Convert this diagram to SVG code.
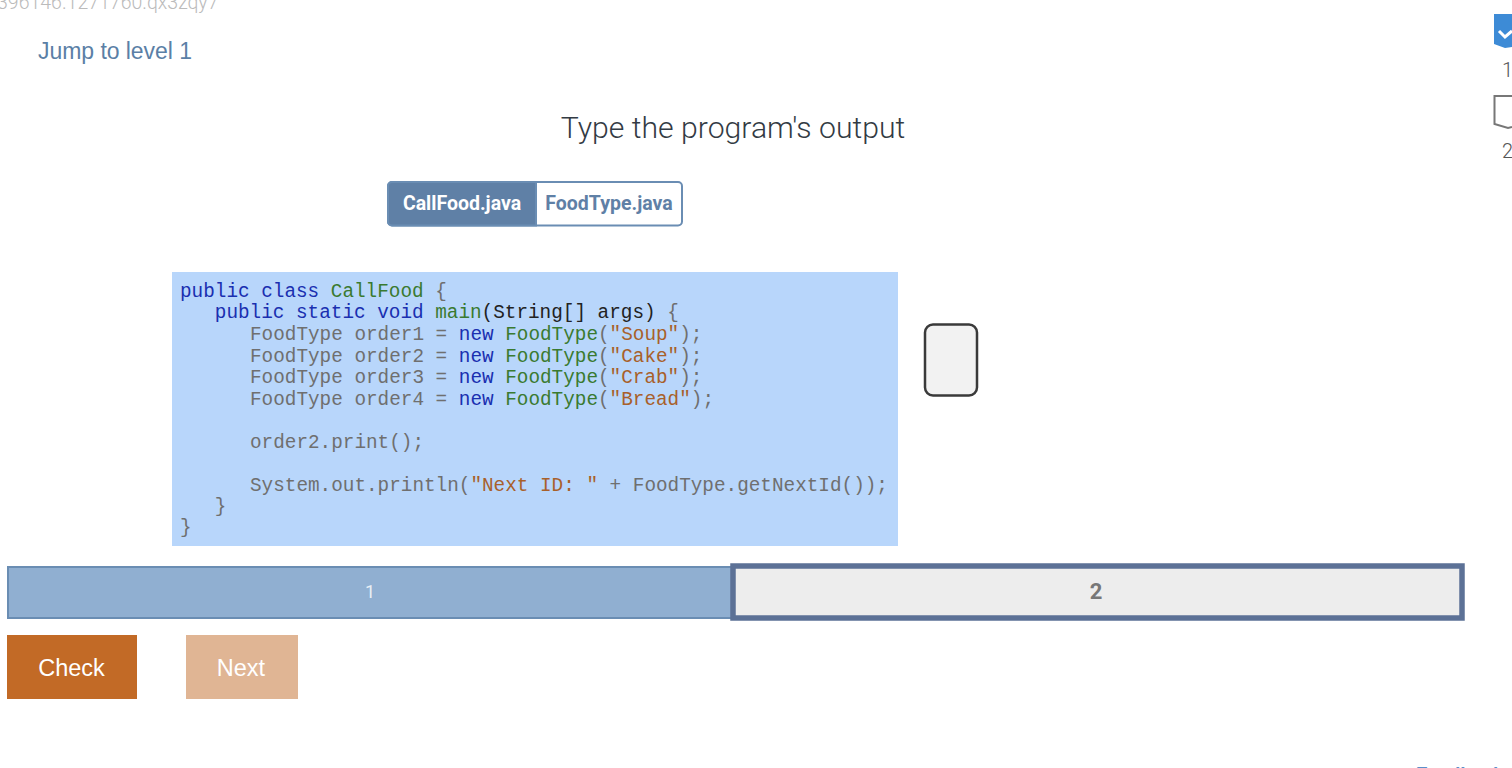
<svg xmlns="http://www.w3.org/2000/svg" width="1512" height="768" viewBox="0 0 1512 768">
<style>
.c{font-family:"Liberation Mono",monospace;font-size:19.33px;fill:#6f6f6f;white-space:pre}
.k{fill:#1a2fb0}.t{fill:#3a7a30}.s{fill:#a8602a}.b{fill:#222}
.r{font-family:Roboto,sans-serif}
</style>
<rect width="1512" height="768" fill="#fff"/>
<text class="r" x="-3" y="9" font-size="19.500" font-weight="300" fill="#bbb">396146.1271760.qx3zqy7</text>
<text x="38" y="59" font-family="Liberation Sans,sans-serif" font-size="23" fill="#5b7fa6" textLength="154">Jump to level 1</text>
<text class="r" x="733" y="138" font-size="30.200" font-weight="300" fill="#333b44" text-anchor="middle">Type the program's output</text>
<g id="tabs">
<rect x="388" y="182" width="294" height="43.500" rx="4" fill="#fff" stroke="#6a8db3" stroke-width="2"/>
<path d="M392 182H536V225.500H392a4 4 0 0 1-4-4V186a4 4 0 0 1 4-4Z" fill="#5f80a6" stroke="#6a8db3" stroke-width="2"/>
<text class="r" x="462" y="210" font-size="19.500" font-weight="700" fill="#fff" text-anchor="middle">CallFood.java</text>
<text class="r" x="609" y="210" font-size="19.500" font-weight="700" fill="#5f80a6" text-anchor="middle">FoodType.java</text>
</g>
<g id="code">
<rect x="172" y="272" width="726" height="274" fill="#b8d6fb"/>
<text class="c" x="180" y="296.500"><tspan class="k">public class</tspan> <tspan class="t">CallFood</tspan> {</text>
<text class="c" x="214.800" y="318"><tspan class="k">public static void</tspan> <tspan class="t">main</tspan><tspan class="b">(String[] args)</tspan> {</text>
<text class="c" x="250" y="339.500">FoodType order1 = <tspan class="k">new</tspan> <tspan class="t">FoodType</tspan>(<tspan class="s">"Soup"</tspan>);</text>
<text class="c" x="250" y="361.500">FoodType order2 = <tspan class="k">new</tspan> <tspan class="t">FoodType</tspan>(<tspan class="s">"Cake"</tspan>);</text>
<text class="c" x="250" y="382.500">FoodType order3 = <tspan class="k">new</tspan> <tspan class="t">FoodType</tspan>(<tspan class="s">"Crab"</tspan>);</text>
<text class="c" x="250" y="404.500">FoodType order4 = <tspan class="k">new</tspan> <tspan class="t">FoodType</tspan>(<tspan class="s">"Bread"</tspan>);</text>
<text class="c" x="250" y="447.500">order2.print();</text>
<text class="c" x="250" y="490.500">System.out.println(<tspan class="s">"Next ID: "</tspan> + FoodType.getNextId());</text>
<text class="c" x="214.800" y="512">}</text>
<text class="c" x="180" y="533">}</text>
</g>
<g id="answer">
<rect x="925" y="324.500" width="52" height="71" rx="8" fill="#f2f2f2" stroke="#3a3a3a" stroke-width="2.500"/>
</g>
<g id="progress">
<rect x="8" y="567" width="724" height="51" fill="#90afd1" stroke="#6a8db3" stroke-width="2"/>
<text class="r" x="370" y="598" font-size="18" fill="#e8eef5" text-anchor="middle">1</text>
<rect x="733" y="566" width="729" height="52" fill="#ededed" stroke="#5c7196" stroke-width="5.500"/>
<text class="r" x="1096" y="599" font-size="22" font-weight="700" fill="#777" text-anchor="middle">2</text>
</g>
<g id="check"><rect x="7" y="635" width="130" height="64" fill="#c26a26"/>
<text x="71.500" y="676" font-family="Liberation Sans,sans-serif" font-size="23.500" fill="#fff" text-anchor="middle">Check</text></g>
<g id="next"><rect x="186" y="635" width="112" height="64" fill="#e0b594"/>
<text x="241" y="676" font-family="Liberation Sans,sans-serif" font-size="23.500" fill="#fff" text-anchor="middle">Next</text></g>
<g id="level1">
<path d="M1494 14H1512V47L1505 48L1494 44Z" fill="#3d8bd6"/>
<path d="M1499 31L1505 37L1512 31" fill="none" stroke="#fff" stroke-width="3"/>
<text class="r" x="1502" y="77" font-size="20" font-weight="300" fill="#555">1</text>
</g>
<g id="level2">
<path d="M1512 96H1494.500V124L1508 128L1512 127" fill="#fff" stroke="#777" stroke-width="2"/>
<text class="r" x="1502" y="158" font-size="20" font-weight="300" fill="#555">2</text>
</g>
<text x="1416" y="780" font-family="Liberation Sans,sans-serif" font-size="19" font-weight="700" fill="#5b8fc9">Feedback</text>
</svg>
